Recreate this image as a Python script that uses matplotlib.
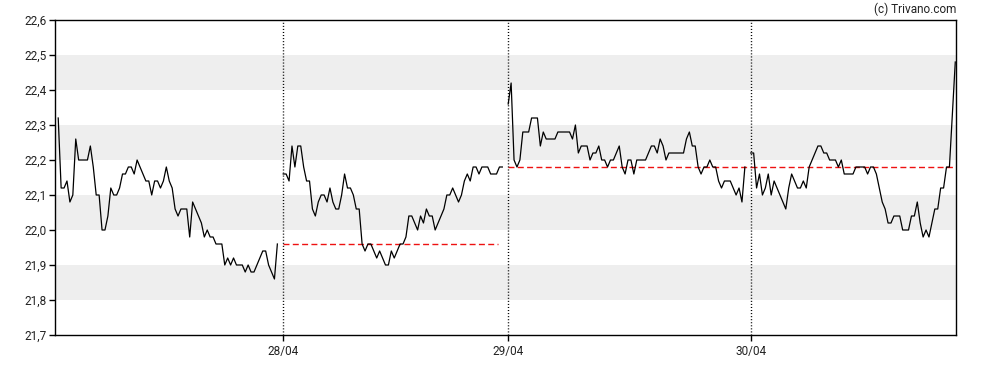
import matplotlib
matplotlib.use("Agg")
import matplotlib.pyplot as plt
from matplotlib.ticker import FuncFormatter, MultipleLocator

plt.rcParams["font.family"] = ["Roboto", "DejaVu Sans"]

# intraday prices, one list per trading session
day_labels = ["27/04", "28/04", "29/04", "30/04"]

day1 = [22.32, 22.12, 22.12, 22.14, 22.08, 22.10, 22.26, 22.20, 22.20, 22.20,
        22.20, 22.24, 22.18, 22.10, 22.10, 22.00, 22.00, 22.04, 22.12, 22.10,
        22.10, 22.12, 22.16, 22.16, 22.18, 22.18, 22.16, 22.20, 22.18, 22.16,
        22.14, 22.14, 22.10, 22.14, 22.14, 22.12, 22.14, 22.18, 22.14, 22.12,
        22.06, 22.04, 22.06, 22.06, 22.06, 21.98, 22.08, 22.06, 22.04, 22.02,
        21.98, 22.00, 21.98, 21.98, 21.96, 21.96, 21.96, 21.90, 21.92, 21.90,
        21.92, 21.90, 21.90, 21.90, 21.88, 21.90, 21.88, 21.88, 21.90, 21.92,
        21.94, 21.94, 21.90, 21.88, 21.86, 21.96]

day2 = [22.16, 22.16, 22.14, 22.24, 22.18, 22.24, 22.24, 22.18, 22.14, 22.14,
        22.06, 22.04, 22.08, 22.10, 22.10, 22.08, 22.12, 22.08, 22.06, 22.06,
        22.10, 22.16, 22.12, 22.12, 22.10, 22.06, 22.06, 21.96, 21.94, 21.96,
        21.96, 21.94, 21.92, 21.94, 21.92, 21.90, 21.90, 21.94, 21.92, 21.94,
        21.96, 21.96, 21.98, 22.04, 22.04, 22.02, 22.00, 22.04, 22.02, 22.06,
        22.04, 22.04, 22.00, 22.02, 22.04, 22.06, 22.10, 22.10, 22.12, 22.10,
        22.08, 22.10, 22.14, 22.16, 22.14, 22.18, 22.18, 22.16, 22.18, 22.18,
        22.18, 22.16, 22.16, 22.16, 22.18, 22.18]

day3 = [22.36, 22.42, 22.20, 22.18, 22.20, 22.28, 22.28, 22.28, 22.32, 22.32,
        22.32, 22.24, 22.28, 22.26, 22.26, 22.26, 22.26, 22.28, 22.28, 22.28,
        22.28, 22.28, 22.26, 22.30, 22.22, 22.24, 22.24, 22.24, 22.20, 22.22,
        22.22, 22.24, 22.20, 22.20, 22.18, 22.20, 22.20, 22.22, 22.24, 22.18,
        22.16, 22.20, 22.20, 22.16, 22.20, 22.20, 22.20, 22.20, 22.22, 22.24,
        22.24, 22.22, 22.26, 22.24, 22.20, 22.22, 22.22, 22.22, 22.22, 22.22,
        22.22, 22.26, 22.28, 22.24, 22.24, 22.18, 22.16, 22.18, 22.18, 22.20,
        22.18, 22.18, 22.14, 22.12, 22.14, 22.14, 22.14, 22.12, 22.10, 22.12,
        22.08, 22.18]

day4 = [22.22, 22.22, 22.12, 22.16, 22.10, 22.12, 22.16, 22.10, 22.14, 22.12,
        22.10, 22.08, 22.06, 22.12, 22.16, 22.14, 22.12, 22.12, 22.14, 22.12,
        22.18, 22.20, 22.22, 22.24, 22.24, 22.22, 22.22, 22.20, 22.20, 22.20,
        22.18, 22.20, 22.16, 22.16, 22.16, 22.16, 22.18, 22.18, 22.18, 22.18,
        22.16, 22.18, 22.18, 22.16, 22.12, 22.08, 22.06, 22.02, 22.02, 22.04,
        22.04, 22.04, 22.00, 22.00, 22.00, 22.04, 22.04, 22.08, 22.02, 21.98,
        22.00, 21.98, 22.02, 22.06, 22.06, 22.12, 22.12, 22.18, 22.18, 22.33,
        22.48]

sessions = [day1, day2, day3, day4]

y_ticks = [21.7, 21.8, 21.9, 22.0, 22.1, 22.2, 22.3, 22.4, 22.5, 22.6]
bands = [(21.8, 21.9), (22.0, 22.1), (22.2, 22.3), (22.4, 22.5)]

fig = plt.figure(figsize=(9.88, 3.70), dpi=100)
ax = fig.add_axes([55 / 988, 35 / 370, 901 / 988, 315 / 370])

for lo, hi in bands:
    ax.axhspan(lo, hi, color="#eeeeee", lw=0, zorder=0)

# one bar per slot, one empty slot between sessions
starts = []
ends = []
pos = 1
for vals in sessions:
    xs = list(range(pos, pos + len(vals)))
    ax.plot(xs, vals, color="black", lw=0.9, zorder=3)
    starts.append(xs[0])
    ends.append(xs[-1])
    pos = xs[-1] + 2

xmax = ends[-1] + 0.25

# previous close reference lines
for k in range(1, len(sessions)):
    prev_close = sessions[k - 1][-1]
    x_end = starts[k + 1] if k + 1 < len(sessions) else xmax
    if k == 1:
        x_end = ends[k] - 1.5
    ax.plot([starts[k], x_end], [prev_close, prev_close], color="#ee1111",
            lw=1, dashes=(4.3, 2.4), zorder=2)

for s in starts[1:]:
    ax.axvline(s, color="black", lw=1, dashes=(0.75, 1.45), zorder=4)

ax.set_xlim(-0.1, xmax)
ax.set_ylim(21.7, 22.6)
ax.set_xticks(starts[1:])
ax.set_xticklabels(day_labels[1:])
ax.set_yticks(y_ticks)
ax.yaxis.set_major_formatter(FuncFormatter(lambda v, p: f"{v:.1f}".replace(".", ",")))

ax.tick_params(axis="both", direction="out", length=4, width=1, colors="black",
               labelsize=8.5, labelcolor="#222222")
ax.tick_params(axis="y", pad=2)
ax.tick_params(axis="x", pad=3.5)
for sp in ax.spines.values():
    sp.set_color("black")
    sp.set_linewidth(1)

fig.text(956 / 988, 1 - 9 / 370, "(c) Trivano.com", ha="right", va="center",
         fontsize=8.5, color="#222222")

fig.savefig("out.png", dpi=100)
